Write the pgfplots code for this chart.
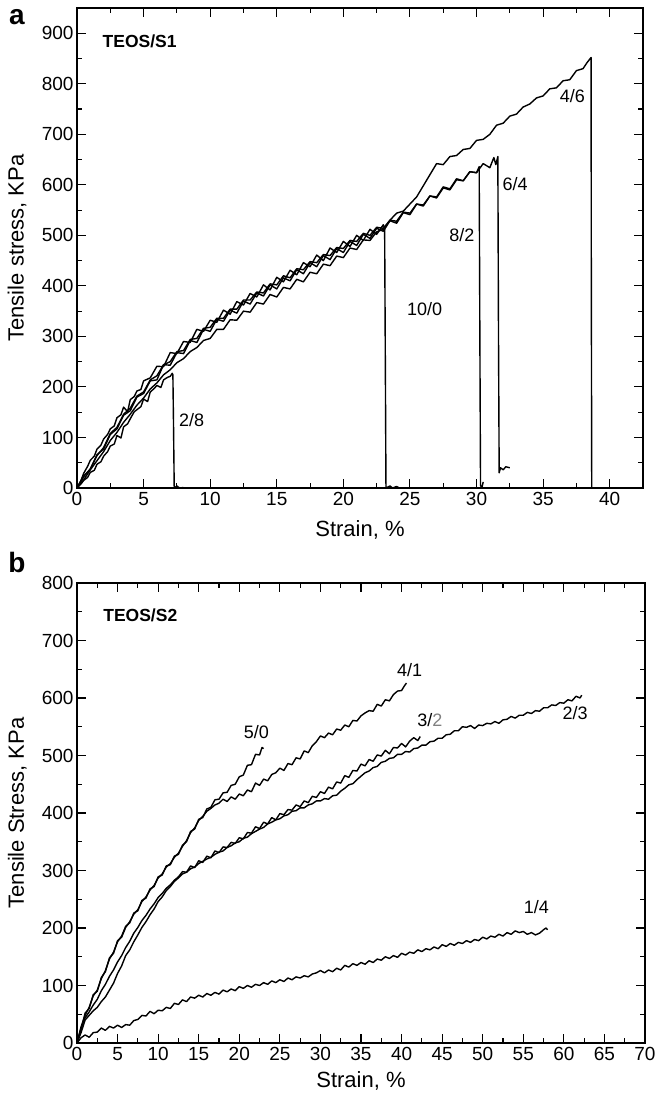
\documentclass[border=0pt]{standalone}
\usepackage{fontspec}
\setmainfont{Liberation Sans}
\usepackage{pgfplots}
\pgfplotsset{compat=1.18}
\begin{document}
\begin{tikzpicture}
\useasboundingbox (0pt,0pt) rectangle (656pt,1099pt);
\pgfplotsset{
  myaxis/.style={
    scale only axis,
    axis line style={line width=1.4pt},
    tick style={line width=1.1pt,black},
    major tick length=9pt, minor tick length=5pt,
    tick align=inside,
    minor x tick num=1, minor y tick num=1,
    /pgf/number format/assume math mode=true,
    tick label style={font=\fontsize{19}{19}\selectfont},
    xticklabel style={yshift=-1pt},
    no markers,
  },
  curve/.style={black, line width=1.4pt, line join=round},
}
\newcommand{\lbl}{\fontsize{18}{18}\selectfont}
% ---------------- panel a ----------------
\begin{axis}[myaxis, at={(77pt,611pt)}, anchor=south west,
  width=566pt, height=480pt,
  xmin=0, xmax=42.5, ymin=0, ymax=950,
  xtick={0,5,...,40}, ytick={0,100,...,900},
  xlabel={Strain, \%}, ylabel={Tensile stress, KPa},
  xlabel style={at={(axis description cs:0.5,-0.088)}, anchor=center, font=\fontsize{22}{22}\selectfont},
  ylabel style={at={(axis description cs:-0.106,0.5)}, rotate=0, anchor=center, font=\fontsize{22}{22}\selectfont},
]
% 2/8
\addplot[curve] coordinates {(0,0)(0.3,8)(0.5,15)(0.8,21)(1,31)(1.3,35)(1.5,47)(1.8,52)(2,63)(2.3,72)(2.5,83)(2.8,87)(3,104)(3.3,99)(3.5,121)(3.8,127)(4,137)(4.3,151)(4.5,155)(4.8,161)(5,176)(5.3,171)(5.5,190)(5.8,197)(6,203)(6.3,199)(6.5,214)(6.8,219)(7,221)(7.15,227)(7.2,224)(7.25,120)(7.3,0)(7.5,4)(7.7,0)(8,1)};
% 10/0
\addplot[curve] coordinates {(0,0)(0.3,15)(0.5,29)(0.8,43)(1,55)(1.3,63)(1.5,77)(1.8,85)(2,97)(2.3,106)(2.5,117)(2.8,123)(3,139)(3.3,145)(3.5,160)(3.8,151)(4,175)(4.3,181)(4.5,192)(4.8,195)(5,212)(5.5,218)(6,241)(6.5,240)(7,268)(7.5,266)(8,290)(8.5,288)(9,314)(9.5,310)(10,332)(10.5,328)(11,352)(11.5,344)(12,369)(12.5,362)(13,385)(13.5,378)(14,402)(14.5,392)(15,417)(15.5,408)(16,431)(16.5,422)(17,446)(17.5,438)(18,461)(18.5,450)(19,475)(19.5,466)(20,488)(20.5,478)(21,500)(21.5,490)(22,512)(22.5,502)(23,521)(23.1,514)(23.15,260)(23.2,0)(23.5,4)(23.7,0)(24,3)(24.2,0)};
% 8/2
\addplot[curve] coordinates {(0,0)(0.5,22)(1,38)(1.5,64)(2,80)(2.5,108)(3,120)(3.5,146)(4,158)(4.5,182)(5,190)(5.5,214)(6,222)(6.5,244)(7,250)(7.5,270)(8,272)(8.5,294)(9,296)(9.5,316)(10,318)(10.5,336)(11,336)(11.5,354)(12,354)(12.5,372)(13,372)(13.5,388)(14,386)(14.5,404)(15,402)(15.5,420)(16,416)(16.5,434)(17,432)(17.5,448)(18,446)(18.5,462)(19,460)(19.5,476)(20,474)(20.5,490)(21,488)(21.5,504)(22,500)(22.5,516)(23,514)(23.5,530)(24,528)(24.5,546)(25,544)(25.5,562)(26,560)(26.5,578)(27,576)(27.5,596)(28,592)(28.5,612)(29,608)(29.5,626)(30,624)(30.2,636)(30.25,300)(30.3,5)(30.4,0)(30.5,12)};
% 6/4
\addplot[curve] coordinates {(0,0)(0.5,24)(1,37)(1.5,66)(2,77)(2.5,106)(3,117)(3.5,144)(4,153)(4.5,180)(5,187)(5.5,212)(6,214)(6.5,244)(7,243)(7.5,268)(8,266)(8.5,292)(9,288)(9.5,314)(10,310)(10.5,334)(11,330)(11.5,352)(12,346)(12.5,370)(13,364)(13.5,386)(14,380)(14.5,402)(15,394)(15.5,416)(16,410)(16.5,432)(17,424)(17.5,446)(18,438)(18.5,460)(19,452)(19.5,474)(20,466)(20.5,488)(21,480)(21.5,502)(22,494)(22.5,514)(23,508)(23.5,529)(24,524)(24.5,545)(25,541)(25.5,562)(26,558)(26.5,578)(27,574)(27.5,594)(28,590)(28.5,610)(29,608)(29.5,626)(30,624)(30.5,642)(31,634)(31.3,654)(31.45,640)(31.6,656)(31.65,300)(31.7,30)(31.8,40)(32,36)(32.2,42)(32.5,40)};
% 4/6
\addplot[curve] coordinates {(0,0)(0.5,16)(1,36)(1.5,54)(2,72)(2.5,94)(3,110)(3.5,130)(4,146)(4.5,164)(5,178)(5.5,196)(6,208)(6.5,224)(7,234)(7.5,248)(8,256)(8.5,270)(9,278)(9.5,292)(10,296)(10.5,314)(11,314)(11.5,333)(12,332)(12.5,350)(13,348)(13.5,367)(14,364)(14.5,383)(15,378)(15.5,397)(16,394)(16.5,413)(17,408)(17.5,427)(18,424)(18.5,443)(19,440)(19.5,459)(20,456)(20.5,475)(21,472)(21.5,491)(22,490)(22.5,507)(23,512)(23.5,530)(24,544)(24.5,548)(25,562)(25.5,576)(26,598)(26.5,620)(27,642)(27.5,640)(28,656)(28.5,658)(29,670)(29.5,672)(30,688)(30.5,690)(31,700)(31.5,718)(32,722)(32.5,736)(33,740)(33.5,754)(34,760)(34.5,772)(35,776)(35.5,790)(36,792)(36.5,806)(37,808)(37.5,826)(38,830)(38.3,842)(38.6,852)(38.62,400)(38.65,0)};
\node[font=\bfseries\fontsize{17.5}{17.5}\selectfont] at (axis cs:4.7,885) {TEOS/S1};
\node[font=\lbl] at (axis cs:37.2,775) {4/6};
\node[font=\lbl] at (axis cs:32.9,602) {6/4};
\node[font=\lbl] at (axis cs:28.9,500) {8/2};
\node[font=\lbl] at (axis cs:26.1,354) {10/0};
\node[font=\lbl] at (axis cs:8.6,135) {2/8};
\end{axis}
\node[font=\bfseries\fontsize{28}{28}\selectfont] at (17pt,1082pt) {a};
% ---------------- panel b ----------------
\begin{axis}[myaxis, at={(77pt,56pt)}, anchor=south west,
  width=568pt, height=460pt,
  xmin=0, xmax=70, ymin=0, ymax=800,
  xtick={0,5,...,70}, ytick={0,100,...,800},
  xlabel={Strain, \%}, ylabel={Tensile Stress, KPa},
  xlabel style={at={(axis description cs:0.5,-0.082)}, anchor=center, font=\fontsize{22}{22}\selectfont},
  ylabel style={at={(axis description cs:-0.105,0.5)}, rotate=0, anchor=center, font=\fontsize{22}{22}\selectfont},
]
% 5/0
\addplot[curve] coordinates {(0,0)(0.5,28)(1,48)(1.5,62)(2,82)(2.5,92)(3,112)(3.5,126)(4,146)(4.5,158)(5,176)(5.5,186)(6,203)(6.5,209)(7,226)(7.5,230)(8,248)(8.5,252)(9,268)(9.5,272)(10,289)(10.5,292)(11,308)(11.5,310)(12,325)(12.5,328)(13,344)(13.5,350)(14,368)(14.5,372)(15,389)(15.5,392)(16,407)(16.5,410)(17,423)(17.5,424)(18,435)(18.5,436)(19,448)(19.5,450)(20,463)(20.5,466)(21,483)(21.5,484)(22,502)(22.5,501)(22.8,514)(23,512)};
% 4/1
\addplot[curve] coordinates {(0,0)(0.5,24)(1,52)(1.5,60)(2,84)(2.5,90)(3,114)(3.5,124)(4,148)(4.5,156)(5,178)(5.5,184)(6,201)(6.5,211)(7,224)(7.5,232)(8,246)(8.5,254)(9,266)(9.5,274)(10,287)(10.5,294)(11,306)(11.5,312)(12,323)(12.5,330)(13,342)(13.5,352)(14,366)(14.5,374)(15,387)(15.5,394)(16,403)(16.5,408)(17,414)(17.5,417)(18,424)(18.5,420)(19,428)(19.5,424)(20,433)(20.5,430)(21,440)(21.5,437)(22,452)(22.5,448)(23,459)(23.5,456)(24,467)(24.5,470)(25,478)(25.5,474)(26,486)(26.5,484)(27,496)(27.5,494)(28,508)(28.5,505)(29,517)(29.5,524)(30,534)(30.5,531)(31,539)(31.5,536)(32,546)(32.5,544)(33,553)(33.5,550)(34,561)(34.5,560)(35,569)(35.5,574)(36,578)(36.5,577)(37,589)(37.5,586)(38,597)(38.5,595)(39,606)(39.5,612)(40,613)(40.3,620)(40.6,626)};
% 3/2
\addplot[curve] coordinates {(0,0)(0.5,26)(1,44)(1.5,54)(2,66)(2.5,76)(3,91)(3.5,102)(4,116)(4.5,127)(5,141)(5.5,152)(6,166)(6.5,177)(7,191)(7.5,201)(8,213)(8.5,222)(9,233)(9.5,242)(10,253)(10.5,260)(11,269)(11.5,275)(12,283)(12.5,289)(13,298)(13.5,297)(14,308)(14.5,305)(15,317)(15.5,314)(16,325)(16.5,322)(17,334)(17.5,331)(18,341)(18.5,340)(19,349)(19.5,347)(20,357)(20.5,355)(21,366)(21.5,365)(22,376)(22.5,373)(23,384)(23.5,381)(24,392)(24.5,388)(25,399)(25.5,397)(26,406)(26.5,405)(27,414)(27.5,411)(28,421)(28.5,418)(29,429)(29.5,427)(30,437)(30.5,434)(31,445)(31.5,442)(32,454)(32.5,452)(33,465)(33.5,462)(34,474)(34.5,473)(35,485)(35.5,482)(36,493)(36.5,490)(37,501)(37.5,499)(38,509)(38.5,503)(39,514)(39.5,513)(40,521)(40.5,515)(41,525)(41.5,531)(42,526)(42.3,533)};
% 2/3
\addplot[curve] coordinates {(0,0)(0.5,18)(1,40)(1.5,48)(2,56)(2.5,62)(3,72)(3.5,80)(4,92)(4.5,104)(5,121)(5.5,134)(6,152)(6.5,162)(7,176)(7.5,188)(8,201)(8.5,211)(9,223)(9.5,233)(10,246)(10.5,254)(11,265)(11.5,272)(12,281)(12.5,287)(13,294)(13.5,297)(14,303)(14.5,306)(15,312)(15.5,316)(16,320)(16.5,323)(17,328)(17.5,332)(18,334)(18.5,340)(19,343)(19.5,348)(20,350)(20.5,356)(21,358)(21.5,364)(22,368)(22.5,372)(23,375)(23.5,381)(24,384)(24.5,388)(25,390)(25.5,395)(26,397)(26.5,403)(27,404)(27.5,409)(28,409)(28.5,414)(29,416)(29.5,421)(30,421)(30.5,425)(31,424)(31.5,430)(32,431)(32.5,438)(33,443)(33.5,449)(34,451)(34.5,458)(35,464)(35.5,470)(36,473)(36.5,479)(37,481)(37.5,488)(38,490)(38.5,495)(39,496)(39.5,502)(40,502)(40.5,507)(41,506)(41.5,512)(42,513)(42.5,518)(43,518)(43.5,524)(44,525)(44.5,530)(45,530)(45.5,536)(46,537)(46.5,543)(47,543)(47.5,550)(48,549)(48.5,552)(49,547)(49.5,553)(50,552)(50.5,556)(51,555)(51.5,559)(52,556)(52.5,562)(53,563)(53.5,568)(54,565)(54.5,570)(55,570)(55.5,575)(56,573)(56.5,578)(57,577)(57.5,583)(58,583)(58.5,588)(59,587)(59.5,592)(60,591)(60.5,597)(61,595)(61.5,603)(62,600)(62.2,605)};
% 1/4
\addplot[curve] coordinates {(0,0)(0.5,9)(1,14)(1.5,10)(2,18)(2.5,19)(3,26)(3.5,22)(4,29)(4.5,26)(5,31)(5.5,27)(6,32)(6.5,31)(7,39)(7.5,41)(8,48)(8.5,47)(9,55)(9.5,51)(10,57)(10.5,56)(11,62)(11.5,60)(12,69)(12.5,67)(13,75)(13.5,72)(14,80)(14.5,78)(15,83)(15.5,80)(16,86)(16.5,83)(17,88)(17.5,85)(18,92)(18.5,89)(19,94)(19.5,91)(20,98)(20.5,95)(21,100)(21.5,97)(22,102)(22.5,100)(23,105)(23.5,102)(24,108)(24.5,105)(25,110)(25.5,107)(26,113)(26.5,110)(27,115)(27.5,113)(28,117)(28.5,115)(29,120)(29.5,122)(30,126)(30.5,122)(31,127)(31.5,124)(32,130)(32.5,127)(33,135)(33.5,132)(34,138)(34.5,135)(35,140)(35.5,137)(36,143)(36.5,140)(37,146)(37.5,144)(38,150)(38.5,147)(39,152)(39.5,149)(40,156)(40.5,153)(41,158)(41.5,156)(42,162)(42.5,159)(43,164)(43.5,162)(44,167)(44.5,164)(45,171)(45.5,168)(46,173)(46.5,170)(47,175)(47.5,173)(48,178)(48.5,175)(49,180)(49.5,178)(50,184)(50.5,181)(51,186)(51.5,184)(52,189)(52.5,186)(53,192)(53.5,189)(54,195)(54.5,192)(55,194)(55.5,189)(56,192)(56.5,188)(57,191)(57.5,197)(57.8,200)(58,197)};
\node[font=\bfseries\fontsize{17.5}{17.5}\selectfont] at (axis cs:7.8,744) {TEOS/S2};
\node[font=\lbl] at (axis cs:22.1,540) {5/0};
\node[font=\lbl] at (axis cs:41,648) {4/1};
\node[font=\lbl] at (axis cs:43.5,561) {3/\textcolor{gray}{2}};
\node[font=\lbl] at (axis cs:61.4,573) {2/3};
\node[font=\lbl] at (axis cs:56.6,237) {1/4};
\end{axis}
\node[font=\bfseries\fontsize{28}{28}\selectfont] at (17pt,536pt) {b};
\end{tikzpicture}
\end{document}
